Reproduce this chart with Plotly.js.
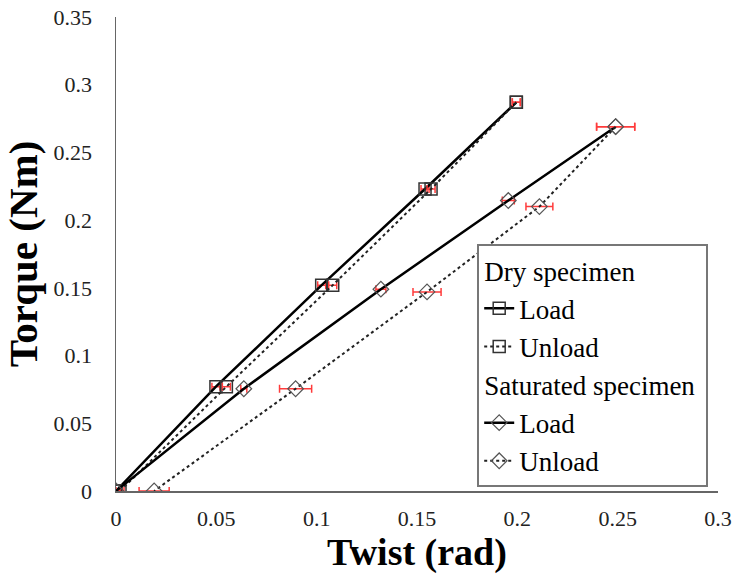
<!DOCTYPE html>
<html>
<head>
<meta charset="utf-8">
<script src="https://cdn.plot.ly/plotly-3.0.1.min.js"></script>
<style>html,body{margin:0;padding:0;background:#fff;}#chart{width:732px;height:586px;}</style>
</head>
<body>
<div id="chart"></div>
<script>
// Dry specimen
var dryLoadX = [0, 0.0498, 0.1025, 0.154, 0.1995];
var dryLoadY = [0, 0.077, 0.152, 0.223, 0.287];
var dryLoadErr = [0.002, 0.002, 0.002, 0.002, 0.002];
var dryUnloadX = [0.1995, 0.157, 0.108, 0.055, 0.002];
var dryUnloadY = [0.287, 0.223, 0.152, 0.077, 0];
var dryUnloadErr = [0.002, 0.002, 0.002, 0.002, 0.002];
// Saturated specimen
var satLoadX = [0, 0.0637, 0.132, 0.1955, 0.249];
var satLoadY = [0, 0.0755, 0.149, 0.2145, 0.269];
var satLoadErr = [0.002, 0.0015, 0.0025, 0.003, 0.0095];
var satUnloadX = [0.249, 0.211, 0.155, 0.0895, 0.019];
var satUnloadY = [0.269, 0.21, 0.147, 0.0755, 0];
var satUnloadErr = [0.0095, 0.0067, 0.007, 0.008, 0.0075];

var serif = "'Liberation Serif', 'Times New Roman', serif";
function errx(arr){ return {type:'data', array:arr, visible:true, color:'#ff3b3b', thickness:1.5, width:4}; }

var traces = [
  {x: dryLoadX, y: dryLoadY, name: 'Load', legendgroup: 'dry', legendgrouptitle: {text: 'Dry specimen', font:{family:serif, size:27, color:'#000'}},
   mode: 'lines+markers', line: {color: '#000', width: 2.5},
   marker: {symbol: 'square-open', size: 12, color: '#333', line: {width: 1.5}}, error_x: errx(dryLoadErr)},
  {x: dryUnloadX, y: dryUnloadY, name: 'Unload', legendgroup: 'dry',
   mode: 'lines+markers', line: {color: '#222', width: 2, dash: 'dot'},
   marker: {symbol: 'square-open', size: 12, color: '#333', line: {width: 1.5}}, error_x: errx(dryUnloadErr)},
  {x: satLoadX, y: satLoadY, name: 'Load', legendgroup: 'sat', legendgrouptitle: {text: 'Saturated specimen', font:{family:serif, size:27, color:'#000'}},
   mode: 'lines+markers', line: {color: '#000', width: 2.5},
   marker: {symbol: 'diamond-open', size: 12, color: '#555', line: {width: 1.2}}, error_x: errx(satLoadErr)},
  {x: satUnloadX, y: satUnloadY, name: 'Unload', legendgroup: 'sat',
   mode: 'lines+markers', line: {color: '#222', width: 2, dash: 'dot'},
   marker: {symbol: 'diamond-open', size: 12, color: '#555', line: {width: 1.2}}, error_x: errx(satUnloadErr)}
];

var layout = {
  width: 732, height: 586,
  margin: {l: 116, r: 14, t: 17, b: 95},
  paper_bgcolor: '#fff', plot_bgcolor: '#fff',
  font: {family: serif, color: '#000'},
  showlegend: true,
  legend: {x: 0.6, y: 0.008, xanchor: 'left', yanchor: 'bottom', bgcolor: '#fff',
           bordercolor: '#777', borderwidth: 2, font: {family: serif, size: 27, color: '#000'},
           traceorder: 'grouped', tracegroupgap: 0},
  xaxis: {range: [0, 0.3], dtick: 0.05, tick0: 0, showgrid: false, zeroline: false,
          showline: true, linecolor: '#666', linewidth: 1.5, ticks: '', ticklabelstandoff: 7,
          tickfont: {family: serif, size: 22, color: '#222'},
          title: {text: '<b>Twist (rad)</b>', font: {family: serif, size: 38, color: '#000'}, standoff: 8}},
  yaxis: {range: [0, 0.35], dtick: 0.05, tick0: 0, showgrid: false, zeroline: false,
          showline: true, linecolor: '#666', linewidth: 1.5, ticks: '', ticklabelstandoff: 18,
          tickfont: {family: serif, size: 22, color: '#222'},
          title: {text: '<b>Torque (Nm)</b>', font: {family: serif, size: 41, color: '#000'}, standoff: 10}}
};

Plotly.newPlot('chart', traces, layout, {displayModeBar: false, staticPlot: true});
</script>
</body>
</html>
